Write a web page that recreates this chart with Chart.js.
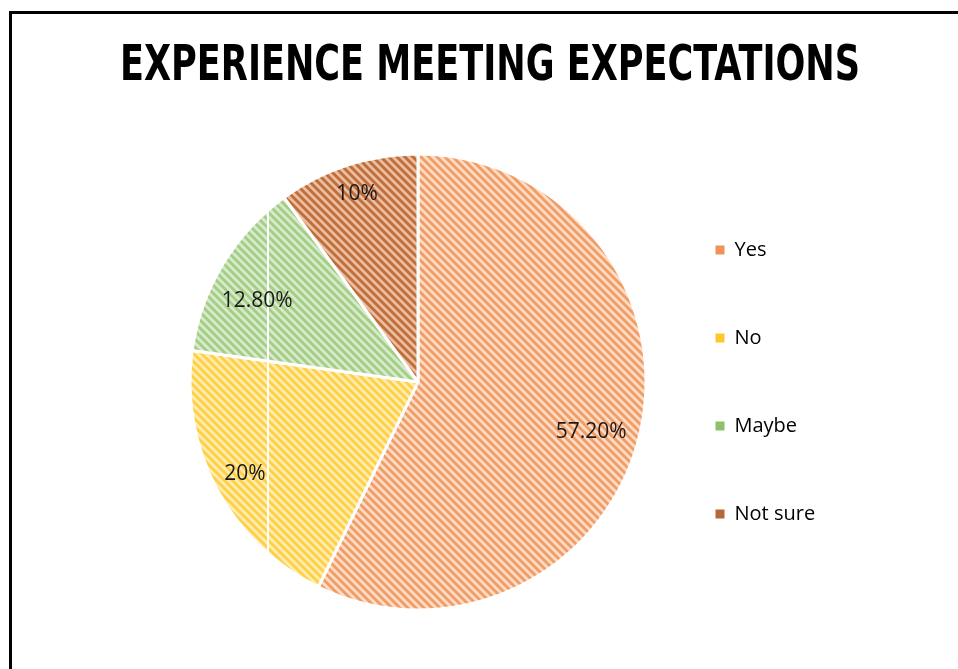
<!DOCTYPE html>
<html>
<head>
<meta charset="utf-8">
<script src="https://cdn.jsdelivr.net/npm/chart.js@4.4.1/dist/chart.umd.min.js"></script>
<style>
  html, body { margin: 0; padding: 0; background: #ffffff; overflow: hidden; }
  #wrap { position: relative; width: 958px; height: 669px; }
  #frame { position: absolute; left: 9px; top: 11px; width: 2000px; height: 2000px;
           border-left: 3px solid #000; border-top: 3px solid #000; }
  canvas { position: absolute; left: 0; top: 0; }
</style>
</head>
<body>
<div id="wrap">
  <div id="frame"></div>
  <canvas id="c" width="958" height="669"></canvas>
</div>
<script>
// ---- data ----
const titleText = 'EXPERIENCE MEETING EXPECTATIONS';
const categories = ['Yes', 'No', 'Maybe', 'Not sure'];
const values = [57.2, 20, 12.8, 10];
const valueLabels = ['57.20%', '20%', '12.80%', '10%'];

// ---- styles ----
const stripeColors = ['#F09C64', '#FFCF45', '#A3CE85', '#BE6D3D'];
const bgColors     = ['#FCDCC7', '#FFECAE', '#D8EACB', '#EBBE9F'];
const legendColors = ['#F0935B', '#FFC72C', '#8CC26A', '#B8673A'];
const labelRadius  = [0.79, 0.86, 0.79, 0.865];
const labelAnglePos = [0.515, 0.5, 0.41, 0.5];
const titleWidth = 740;

function makePattern(bg, fg) {
  const s = 8;
  const t = document.createElement('canvas');
  t.width = s; t.height = s;
  const g = t.getContext('2d');
  g.fillStyle = bg;
  g.fillRect(0, 0, s, s);
  g.strokeStyle = fg;
  g.lineWidth = 2.8;
  for (let k = -2; k <= 2; k++) {
    g.beginPath();
    g.moveTo(-s, k * s - s);
    g.lineTo(2 * s, k * s + 2 * s);
    g.stroke();
  }
  return g.createPattern(t, 'repeat');
}
const patterns = categories.map((_, i) => makePattern(bgColors[i], stripeColors[i]));

const tweaks = {
  id: 'tweaks',
  afterLayout(chart) {
    // let legend text run past its narrow layout box without being clipped
    const lg = chart.legend;
    if (lg) { lg.right = chart.width; lg.width = lg.right - lg.left; }
    // give the title a fixed width around its centre (text is fitted to it)
    const tb = chart.titleBlock;
    if (tb) {
      const c = (tb.left + tb.right) / 2;
      tb.left = c - titleWidth / 2;
      tb.right = c + titleWidth / 2;
      tb.width = titleWidth;
    }
  }
};

const sliceLabels = {
  id: 'sliceLabels',
  afterDatasetsDraw(chart) {
    const ctx = chart.ctx;
    const meta = chart.getDatasetMeta(0);
    const a0 = meta.data[0];
    if (a0) {
      const cx = a0.x, cy = a0.y, r = a0.outerRadius;
      ctx.save();
      ctx.beginPath();
      ctx.arc(cx, cy, r - 1, 0, Math.PI * 2);
      ctx.clip();
      ctx.strokeStyle = '#ffffff';
      ctx.lineWidth = 2;
      ctx.beginPath();
      ctx.moveTo(cx - 0.658 * r, cy - r);
      ctx.lineTo(cx - 0.658 * r, cy + r);
      ctx.stroke();
      ctx.restore();
    }
    ctx.save();
    ctx.font = '21px "Open Sans"';
    ctx.fillStyle = '#1a1a1a';
    ctx.textAlign = 'center';
    ctx.textBaseline = 'middle';
    meta.data.forEach((arc, i) => {
      const ang = arc.startAngle + (arc.endAngle - arc.startAngle) * labelAnglePos[i];
      const d = arc.outerRadius * labelRadius[i];
      ctx.fillText(valueLabels[i], arc.x + Math.cos(ang) * d, arc.y + Math.sin(ang) * d);
    });
    ctx.restore();
  }
};

new Chart(document.getElementById('c'), {
  type: 'pie',
  data: {
    labels: categories,
    datasets: [{
      data: values,
      backgroundColor: patterns,
      borderColor: '#ffffff',
      borderWidth: 3
    }]
  },
  options: {
    responsive: false,
    animation: false,
    events: [],
    layout: { padding: { left: 188.5, right: 166.5, top: 0, bottom: 57.5 } },
    plugins: {
      title: {
        display: true,
        text: titleText,
        color: '#000000',
        font: { family: '"DejaVu Sans Condensed", "Liberation Sans Narrow", sans-serif', size: 49, weight: 'bold', lineHeight: 1.2 },
        padding: { top: 38, bottom: 55.6 }
      },
      legend: {
        position: 'right',
        fullSize: false,
        maxWidth: 144,
        labels: {
          boxWidth: 9,
          boxHeight: 9,
          padding: 68,
          color: '#1a1a1a',
          font: { family: '"Open Sans"', size: 20 },
          generateLabels(chart) {
            return chart.data.labels.map((l, i) => ({
              text: l,
              fillStyle: legendColors[i],
              strokeStyle: legendColors[i],
              lineWidth: 0,
              hidden: false,
              index: i
            }));
          }
        }
      },
      tooltip: { enabled: false }
    }
  },
  plugins: [tweaks, sliceLabels]
});
</script>
</body>
</html>
